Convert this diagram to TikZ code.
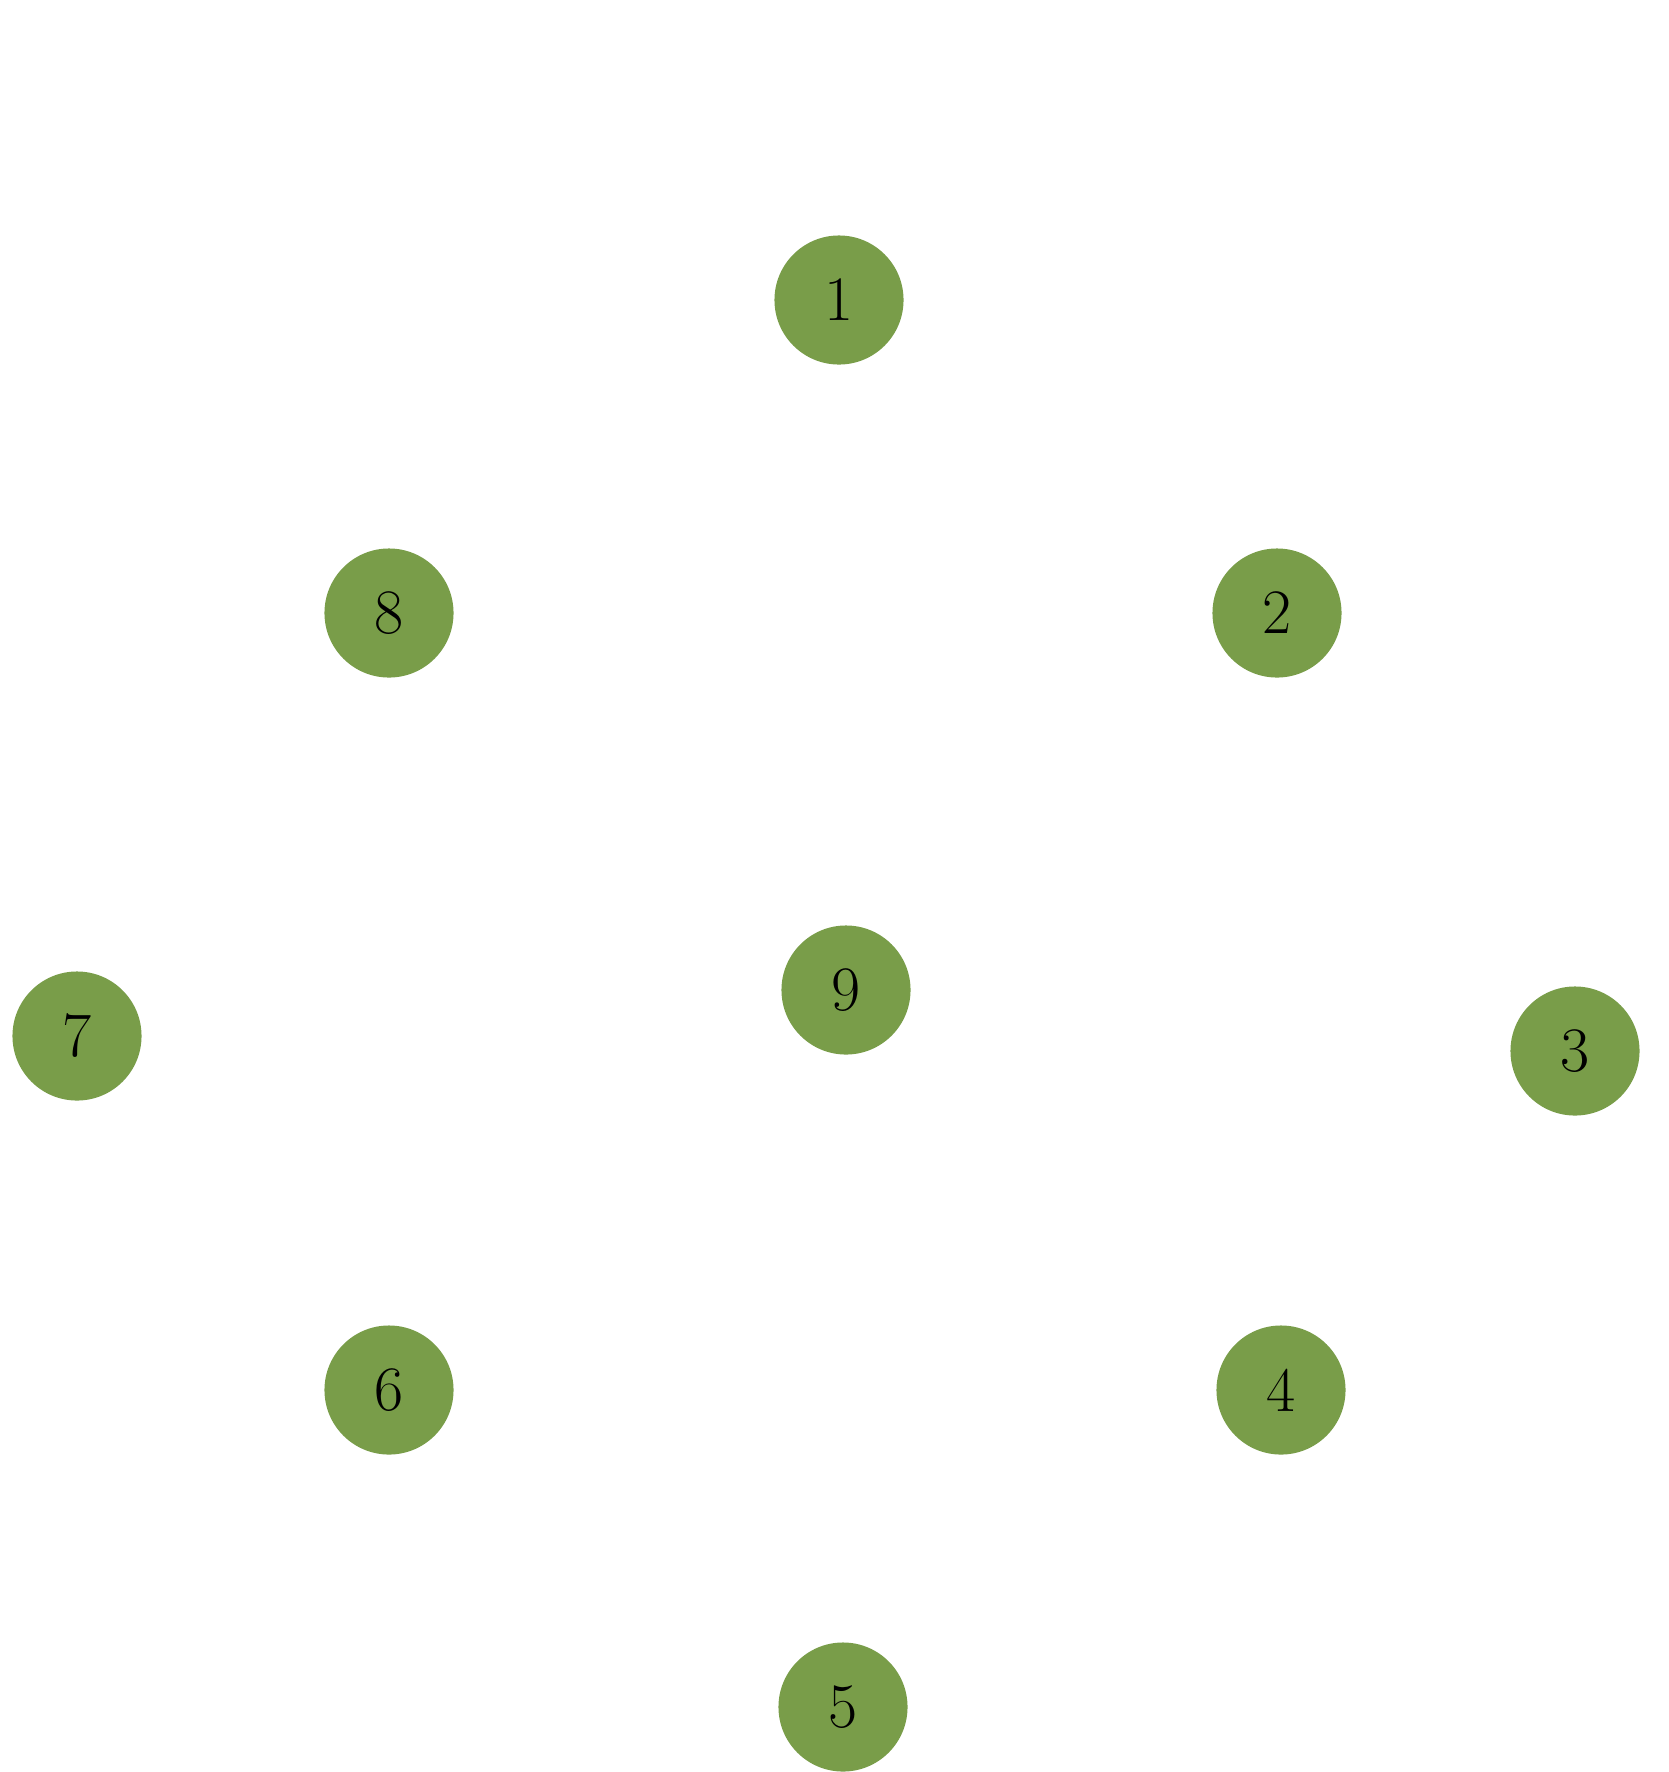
\documentclass[tikz,border=0pt]{standalone}
\definecolor{nodegreen}{RGB}{121,157,73}
\begin{document}
\begin{tikzpicture}[x=0.01cm,y=-0.01cm,
  vtx/.style={circle,fill=nodegreen,draw=none,minimum size=1.29cm,inner sep=0pt,
    font=\fontsize{18}{20}\selectfont,text=black}]
\useasboundingbox[fill=white] (0,0) rectangle (1668,1772);
\node[vtx] (n1) at (839,300) {1};
\node[vtx] (n2) at (1277,613) {2};
\node[vtx] (n3) at (1575,1051) {3};
\node[vtx] (n4) at (1281,1390) {4};
\node[vtx] (n5) at (843,1707) {5};
\node[vtx] (n6) at (389,1390) {6};
\node[vtx] (n7) at (77,1036) {7};
\node[vtx] (n8) at (389,613) {8};
\node[vtx] (n9) at (846,990) {9};
\end{tikzpicture}
\end{document}
